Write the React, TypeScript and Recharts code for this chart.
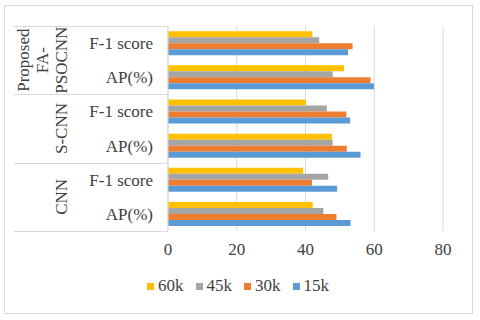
import { BarChart, Bar, XAxis, YAxis, CartesianGrid, Legend } from 'recharts';

const metrics = ['F-1 score', 'AP(%)', 'F-1 score', 'AP(%)', 'F-1 score', 'AP(%)'];
const models = ['Proposed FA-PSOCNN', 'Proposed FA-PSOCNN', 'S-CNN', 'S-CNN', 'CNN', 'CNN'];
const modelLines: Record<string, string[]> = {
  'Proposed FA-PSOCNN': ['Proposed', 'FA-', 'PSOCNN'],
  'S-CNN': ['S-CNN'],
  CNN: ['CNN'],
};
const v60k = [42, 51.2, 40.1, 47.7, 39.3, 42.1];
const v45k = [44, 47.9, 46.2, 47.9, 46.6, 45.2];
const v30k = [53.7, 58.9, 51.9, 52, 41.9, 49];
const v15k = [52.4, 59.9, 53, 56, 49.2, 53.1];
const xTicks = [0, 20, 40, 60, 80];

const series = [
  { key: 'v60k', name: '60k', color: '#FFC000' },
  { key: 'v45k', name: '45k', color: '#A5A5A5' },
  { key: 'v30k', name: '30k', color: '#ED7D31' },
  { key: 'v15k', name: '15k', color: '#5B9BD5' },
];

const data = metrics.map((m, i) => ({
  metric: m,
  model: models[i],
  v60k: v60k[i],
  v45k: v45k[i],
  v30k: v30k[i],
  v15k: v15k[i],
}));

const FONT = '"Liberation Serif", "Times New Roman", serif';
const TEXT = '#404040';
const LINE = '#d9d9d9';
const HALF = 17.1;

// multi-level category ticks: metric label + model group label with separators
function CategoryTick(props: any) {
  const { y, payload, index } = props;
  const i = index ?? payload.index;
  const lines = modelLines[models[i]] || [];
  const cy = y - HALF;
  const lineGap = 19;
  const startX = 62 - (lines.length - 1) * lineGap;
  const top = Math.round(y - HALF);
  const bottom = Math.round(y + HALF);
  return (
    <g>
      <text x={153} y={y} dy={6} textAnchor="end" fontFamily={FONT} fontSize={17} fill={TEXT}>
        {metrics[i]}
      </text>
      {i === 0 && <rect x={14} y={top} width={154} height={1} fill={LINE} />}
      {i % 2 === 1 && <rect x={14} y={bottom} width={154} height={1} fill={LINE} />}
      {i % 2 === 1 &&
        lines.map((l, k) => {
          const lx = startX + k * lineGap;
          return (
            <text
              key={k}
              x={lx}
              y={cy}
              textAnchor="middle"
              dominantBaseline="central"
              transform={`rotate(-90, ${lx}, ${cy})`}
              fontFamily={FONT}
              fontSize={17}
              fill={TEXT}
            >
              {l}
            </text>
          );
        })}
    </g>
  );
}

function LegendContent() {
  return (
    <div style={{ display: 'flex', justifyContent: 'center', gap: 12, fontFamily: FONT, fontSize: 17, color: TEXT, paddingRight: 4 }}>
      {series.map((s) => (
        <div key={s.key} style={{ display: 'flex', alignItems: 'center' }}>
          <span style={{ width: 7, height: 7, background: s.color, display: 'inline-block', marginRight: 4 }} />
          <span>{s.name}</span>
        </div>
      ))}
    </div>
  );
}

export default function App() {
  return (
    <div style={{ position: 'absolute', left: 0, top: 0, width: 480, height: 320, background: '#fff' }}>
      <div
        style={{
          position: 'absolute',
          left: 4,
          top: 5,
          width: 467,
          height: 307,
          border: `1px solid ${LINE}`,
        }}
      />
      <BarChart
        width={480}
        height={320}
        data={data}
        layout="vertical"
        margin={{ top: 26, right: 37, bottom: 59, left: 0 }}
        barCategoryGap="15%"
        barGap={0}
      >
        <CartesianGrid horizontal={false} stroke={LINE} />
        <XAxis
          type="number"
          domain={[0, 80]}
          ticks={xTicks}
          axisLine={false}
          tickLine={false}
          height={30}
          tickMargin={6}
          tick={{ fontFamily: FONT, fontSize: 17, fill: TEXT }}
        />
        <YAxis
          type="category"
          dataKey="metric"
          width={168}
          interval={0}
          axisLine={{ stroke: LINE }}
          tickLine={false}
          tick={<CategoryTick />}
        />
        <Legend
          layout="horizontal"
          verticalAlign="middle"
          align="center"
          wrapperStyle={{ top: 276, left: 0, width: 480 }}
          content={<LegendContent />}
        />
        {series.map((s) => (
          <Bar key={s.key} dataKey={s.key} name={s.name} fill={s.color} isAnimationActive={false} />
        ))}
      </BarChart>
    </div>
  );
}
